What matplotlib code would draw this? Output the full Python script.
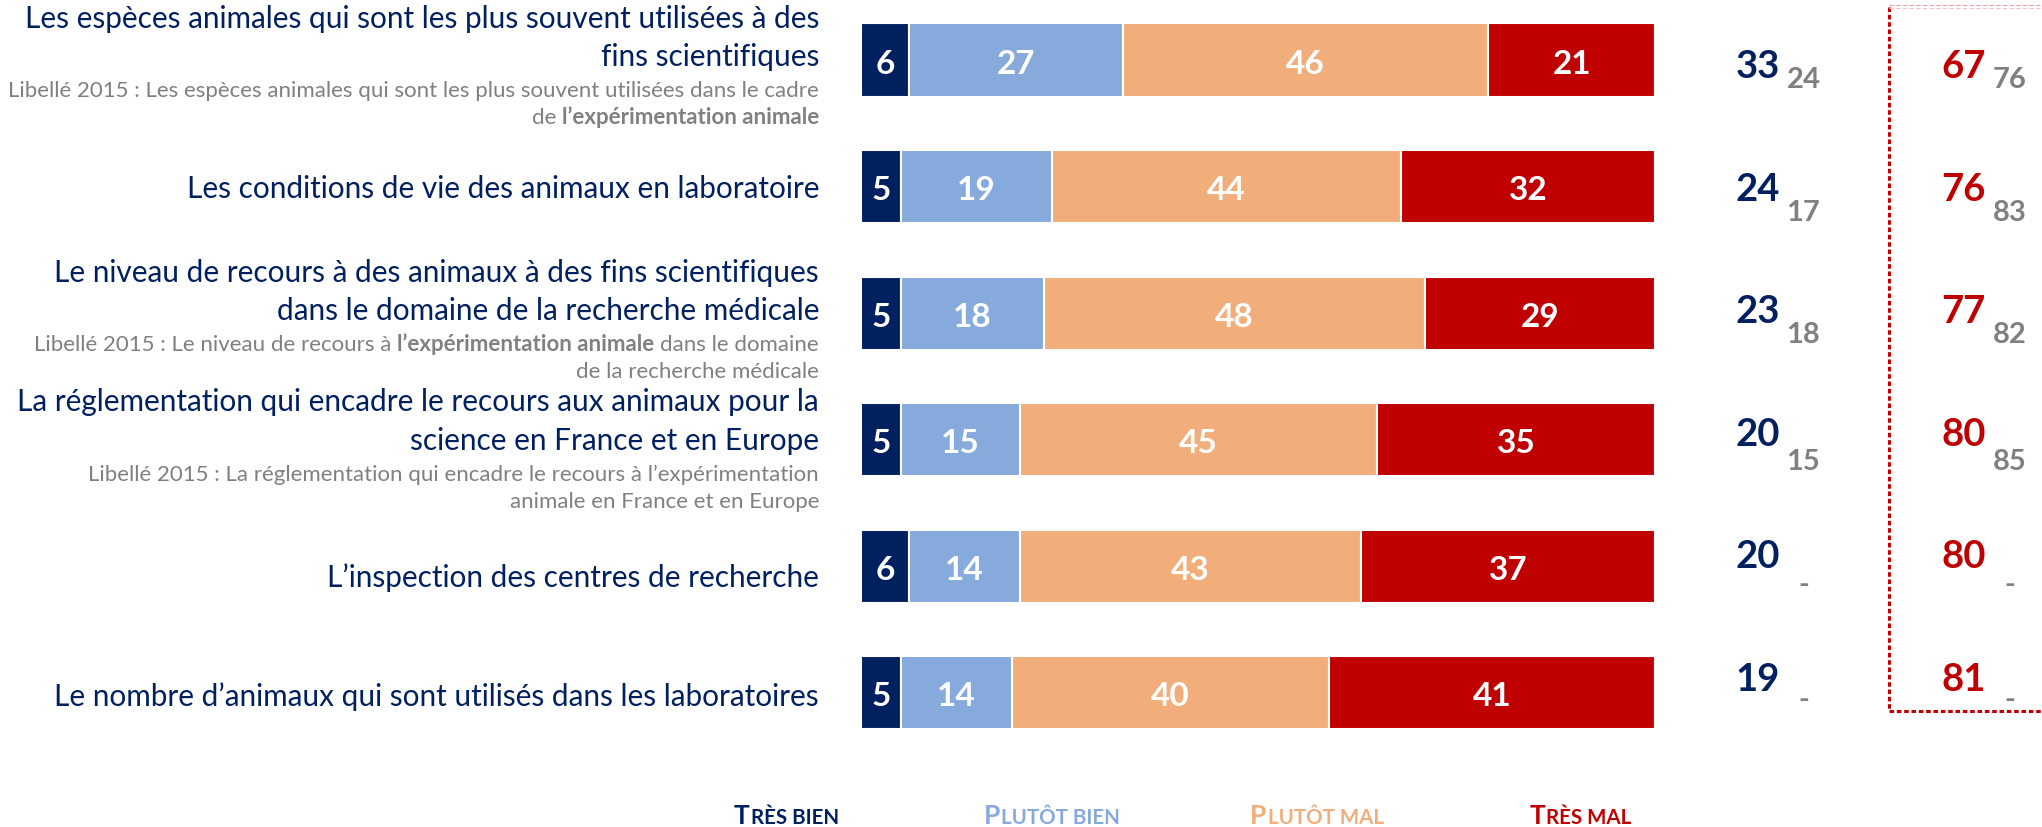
import matplotlib
matplotlib.use('Agg')
import matplotlib.pyplot as plt
import matplotlib.transforms as mtransforms

plt.rcParams['font.family'] = ['Lato', 'DejaVu Sans']

W, H = 2042, 828
ROW = 126.55  # pixels between two bars

# ---- data ----
series = ["Très bien", "Plutôt bien", "Plutôt mal", "Très mal"]
colors = ["#002060", "#86AADC", "#F1AE7B", "#C00000"]
tres_bien = [6, 5, 5, 5, 6, 5]
plutot_bien = [27, 19, 18, 15, 14, 14]
plutot_mal = [46, 44, 48, 45, 43, 40]
tres_mal = [21, 32, 29, 35, 37, 41]
bien_2015 = [24, 17, 18, 15, None, None]
mal_2015 = [76, 83, 82, 85, None, None]

labels = [
    ["Les espèces animales qui sont les plus souvent utilisées à des", "fins scientifiques"],
    ["Les conditions de vie des animaux en laboratoire"],
    ["Le niveau de recours à des animaux à des fins scientifiques",
     "dans le domaine de la recherche médicale"],
    ["La réglementation qui encadre le recours aux animaux pour la",
     "science en France et en Europe"],
    ["L’inspection des centres de recherche"],
    ["Le nombre d’animaux qui sont utilisés dans les laboratoires"],
]
# 2015 wording, one list of (text, bold) pieces per line
notes = [
    [[("Libellé 2015 : Les espèces animales qui sont les plus souvent utilisées dans le cadre", False)],
     [("de", False), ("l’expérimentation animale", True)]],
    [],
    [[("Libellé 2015 : Le niveau de recours à", False), ("l’expérimentation animale", True),
      ("dans le domaine", False)],
     [("de la recherche médicale", False)]],
    [[("Libellé 2015 : La réglementation qui encadre le recours à l’expérimentation", False)],
     [("animale en France et en Europe", False)]],
    [],
    [],
]

# ---- layout ----
first_base = [-0.263, 0.082, -0.255, -0.232, 0.159, 0.095]  # baseline of first label line (rows)
small_dy = [10, 20, 20, 24, 25, 17]  # px below big number baseline

fig = plt.figure(figsize=(W / 100, H / 100), dpi=100)
ax = fig.add_axes([861 / W, 0, 794 / W, 1])
ax.set_xlim(0, 100)
ax.set_ylim((H - 61) / ROW, -61 / ROW)
ax.axis('off')

ax_t = fig.add_axes([0, 0, 1, 1], zorder=-1)
ax_t.set_xlim(0, W)
ax_t.set_ylim(H, 0)
ax_t.axis('off')

tr = mtransforms.blended_transform_factory(ax_t.transData, ax.transData)
renderer = fig.canvas.get_renderer()

rows = list(range(len(tres_bien)))
left = [0] * len(rows)
for vals, c in zip([tres_bien, plutot_bien, plutot_mal, tres_mal], colors):
    ax.barh(rows, vals, left=left, height=0.577, color=c, edgecolor='white', linewidth=1.5)
    for i, v in enumerate(vals):
        ax.text(left[i] + v / 2, i + 0.1, str(v), ha='center', va='baseline',
                color='white', fontsize=24, fontweight='bold')
    left = [l + v for l, v in zip(left, vals)]


def width_of(t):
    return t.get_window_extent(renderer).width


sp = ax_t.text(0, 0, "a a", fontsize=16)
sp2 = ax_t.text(0, 0, "aa", fontsize=16)
space_w = width_of(sp) - width_of(sp2)
sp.remove()
sp2.remove()


def pieces_right(x_right, y, pieces, size, color):
    x = x_right
    for txt, bold in reversed(pieces):
        t = ax_t.text(x, y, txt, transform=tr, ha='right', va='baseline', fontsize=size,
                      color=color, fontweight='bold' if bold else 'normal')
        x -= width_of(t) + space_w


# category labels
for i in rows:
    y = i + first_base[i]
    for line in labels[i]:
        ax_t.text(819, y, line, transform=tr, ha='right', va='baseline',
                  fontsize=21.4, color="#002060")
        y += 0.303
    y += 0.245 - 0.303
    for line in notes[i]:
        pieces_right(819, y, line, 16, "#808080")
        y += 0.215

# totals
for i in rows:
    bien = tres_bien[i] + plutot_bien[i]
    mal = plutot_mal[i] + tres_mal[i]
    yb = i + (17 - 3.95 * i) / ROW
    ys = yb + small_dy[i] / ROW
    ax_t.text(1757.5, yb, str(bien), transform=tr, ha='center', va='baseline',
              fontsize=27.5, fontweight='bold', color="#002060")
    ax_t.text(1963.5, yb, str(mal), transform=tr, ha='center', va='baseline',
              fontsize=27.5, fontweight='bold', color="#C00000")
    b15 = "-" if bien_2015[i] is None else str(bien_2015[i])
    m15 = "-" if mal_2015[i] is None else str(mal_2015[i])
    ax_t.text(1803.5, ys, b15, transform=tr, ha='center', va='baseline',
              fontsize=21, fontweight='bold', color="#808080")
    ax_t.text(2010, ys, m15, transform=tr, ha='center', va='baseline',
              fontsize=21, fontweight='bold', color="#808080")

# dotted frame around the "mal" totals
ax_t.plot([1889, 1889], [8, 712], color="#C00000", lw=2.2, ls=(0, (1.5, 0.9)),
          solid_capstyle='butt', dash_capstyle='butt')
ax_t.plot([1889, W], [712, 712], color="#C00000", lw=2.2, ls=(0, (1.5, 0.9)),
          dash_capstyle='butt')
ax_t.plot([1889, W], [6, 6], color="#E9A3A3", lw=0.8, ls=(0, (4, 2)))
ax_t.plot([1889, W], [9, 9], color="#F2C4C4", lw=0.8, ls=(0, (4, 2)))


# legend in small caps
def small_caps(xc, y, text, color):
    t1 = ax_t.text(0, y, text[0], fontsize=19, fontweight='bold', color=color,
                   ha='left', va='baseline')
    t2 = ax_t.text(0, y, text[1:].upper(), fontsize=14.8, fontweight='bold', color=color,
                   ha='left', va='baseline')
    w1, w2 = width_of(t1), width_of(t2)
    x0 = xc - (w1 + w2 + 1) / 2
    t1.set_x(x0)
    t2.set_x(x0 + w1 + 1)


for name, c, xc in zip(series, colors, [786.5, 1051.5, 1317, 1580.5]):
    small_caps(xc, 824, name, c)

fig.savefig("out.png", dpi=100)
